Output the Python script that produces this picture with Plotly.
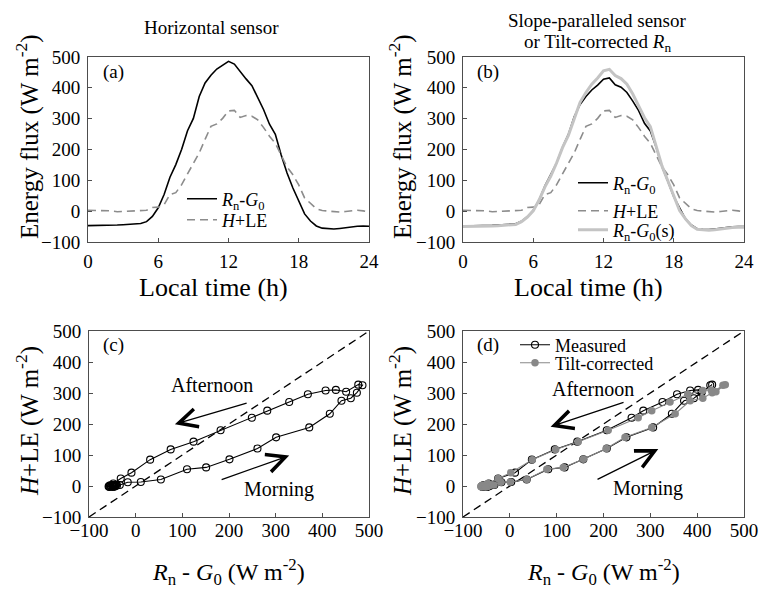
import plotly.graph_objects as go

# ---------------- data ----------------
hours = [0, 0.5, 1, 1.5, 2, 2.5, 3, 3.5, 4, 4.5, 5, 5.5, 6, 6.5, 7, 7.5, 8, 8.5,
         9, 9.5, 10, 10.5, 11, 11.5, 12, 12.5, 13, 13.5, 14, 14.5, 15, 15.5, 16,
         16.5, 17, 17.5, 18, 18.5, 19, 19.5, 20, 20.5, 21, 21.5, 22, 22.5, 23,
         23.5, 24]

# Rn-G0, horizontal sensor (W m-2)
rn_g0_horizontal = [-47, -47, -46, -46, -46, -45, -44, -43, -42, -40, -34, -17,
                    11, 54, 110, 151, 201, 261, 301, 372, 416, 441, 461, 474,
                    486, 477, 451, 429, 407, 369, 329, 282, 249, 182, 124, 75,
                    31, -9, -32, -48, -55, -57, -58, -56, -53, -51, -49, -48, -49]

# H+LE (W m-2)
h_le = [3, 3, 3, 2, 1, -2, -1, 2, 3, 2, 3, 12,
        13, 21, 54, 60, 86, 121, 157, 189, 233, 275, 283, 301,
        325, 327, 304, 310, 308, 296, 271, 243, 220, 180, 143, 118,
        85, 43, 24, 8, 2, 0, -2, -3, -1, 2, 3, 1, -3]

# Rn-G0, slope-paralleled sensor (measured)
rn_g0_slope = [-48, -48, -47, -47, -47, -46, -45, -44, -43, -41, -33, -18,
               3, 36, 82, 117, 157, 207, 249, 306, 346, 372, 393, 409,
               428, 432, 410, 402, 385, 357, 326, 285, 260, 207, 144, 96,
               47, 11, -25, -45, -57, -59, -60, -58, -55, -53, -51, -50, -50]

# Rn-G0(s), tilt-corrected
rn_g0_tilt = [-50, -50, -49, -49, -49, -48, -47, -46, -45, -43, -34, -19,
              1, 36, 79, 114, 157, 206, 246, 303, 353, 385, 412, 432,
              455, 460, 440, 430, 412, 380, 342, 303, 274, 210, 146, 98,
              48, 2, -25, -47, -59, -61, -62, -60, -57, -55, -53, -52, -52]

time_ticks = [0, 6, 12, 18, 24]
flux_ticks = [-100, 0, 100, 200, 300, 400, 500]
one_to_one = [-100, 500]

# ---------------- layout helpers ----------------
W, H = 759, 590
FONT = "Liberation Serif, serif"


def fx(p):
    return p / W


def fy(p):
    return 1 - p / H


RNG0 = "<i>R</i><sub>n</sub>-<i>G</i><sub>0</sub>"
HLE = "<i>H</i>+LE"

fig = go.Figure()

# ---- (a) ----
fig.add_trace(go.Scatter(x=hours, y=rn_g0_horizontal, mode="lines", name=RNG0,
                         line=dict(color="black", width=1.6),
                         xaxis="x", yaxis="y", legend="legend"))
fig.add_trace(go.Scatter(x=hours, y=h_le, mode="lines", name=HLE,
                         line=dict(color="#8c8c8c", width=1.6, dash="8px,5px"),
                         xaxis="x", yaxis="y", legend="legend2"))

# ---- (b) ----
fig.add_trace(go.Scatter(x=hours, y=rn_g0_slope, mode="lines", name=RNG0,
                         line=dict(color="black", width=1.6),
                         xaxis="x2", yaxis="y2", legend="legend3"))
fig.add_trace(go.Scatter(x=hours, y=h_le, mode="lines", name=HLE,
                         line=dict(color="#8c8c8c", width=1.6, dash="8px,5px"),
                         xaxis="x2", yaxis="y2", legend="legend4"))
fig.add_trace(go.Scatter(x=hours, y=rn_g0_tilt, mode="lines", name=RNG0 + "(s)",
                         line=dict(color="#c4c4c4", width=3),
                         xaxis="x2", yaxis="y2", legend="legend5"))

# ---- (c) ----
fig.add_trace(go.Scatter(x=one_to_one, y=one_to_one, mode="lines", showlegend=False,
                         line=dict(color="black", width=1.3, dash="8px,5px"),
                         xaxis="x3", yaxis="y3"))
fig.add_trace(go.Scatter(x=rn_g0_horizontal, y=h_le, mode="lines+markers",
                         showlegend=False,
                         line=dict(color="black", width=1.1),
                         marker=dict(symbol="circle-open", size=7, color="black",
                                     line=dict(width=1.1)),
                         xaxis="x3", yaxis="y3"))

# ---- (d) ----
fig.add_trace(go.Scatter(x=one_to_one, y=one_to_one, mode="lines", showlegend=False,
                         line=dict(color="black", width=1.3, dash="8px,5px"),
                         xaxis="x4", yaxis="y4"))
fig.add_trace(go.Scatter(x=rn_g0_slope, y=h_le, mode="lines+markers", name="Measured",
                         line=dict(color="black", width=1.1),
                         marker=dict(symbol="circle-open", size=7, color="black",
                                     line=dict(width=1.1)),
                         xaxis="x4", yaxis="y4", legend="legend6"))
fig.add_trace(go.Scatter(x=rn_g0_tilt, y=h_le, mode="lines+markers", name="Tilt-corrected",
                         line=dict(color="#888888", width=1.1),
                         marker=dict(symbol="circle", size=7.5, color="#888888"),
                         xaxis="x4", yaxis="y4", legend="legend7"))

axis_common = dict(showgrid=False, zeroline=False, showline=True, linecolor="#4d4d4d",
                   linewidth=1, mirror=True, ticks="inside", ticklen=4, automargin=False,
                   tickcolor="#4d4d4d", tickfont=dict(family=FONT, size=19, color="black"))

top_y = [fy(242), fy(57)]
bot_y = [fy(517), fy(331)]
left_x = [fx(88), fx(369)]
right_x = [fx(463), fx(744)]


def leg(xp, yp):
    return dict(bgcolor="rgba(0,0,0,0)", font=dict(family=FONT, size=18, color="black"),
                xanchor="left", yanchor="middle", tracegroupgap=0, itemwidth=30,
                borderwidth=0, x=fx(xp), y=fy(yp))


fig.update_layout(
    width=W, height=H, margin=dict(l=0, r=0, t=0, b=0, autoexpand=False),
    paper_bgcolor="white", plot_bgcolor="white",
    font=dict(family=FONT, color="black"),
    xaxis=dict(axis_common, domain=left_x, range=[0, 24], tickvals=time_ticks,
               anchor="y", ticklabelstandoff=2),
    yaxis=dict(axis_common, domain=top_y, range=[-100, 500], tickvals=flux_ticks,
               anchor="x", ticklabelstandoff=3),
    xaxis2=dict(axis_common, domain=right_x, range=[0, 24], tickvals=time_ticks,
                anchor="y2", ticklabelstandoff=2),
    yaxis2=dict(axis_common, domain=top_y, range=[-100, 500], tickvals=flux_ticks,
                anchor="x2", ticklabelstandoff=3),
    xaxis3=dict(axis_common, domain=[fx(89), fx(369)], range=[-100, 500], tickvals=flux_ticks,
                anchor="y3", ticklabelstandoff=-4),
    yaxis3=dict(axis_common, domain=bot_y, range=[-100, 500], tickvals=flux_ticks,
                anchor="x3", ticklabelstandoff=3),
    xaxis4=dict(axis_common, domain=right_x, range=[-100, 500], tickvals=flux_ticks,
                anchor="y4", ticklabelstandoff=-4),
    yaxis4=dict(axis_common, domain=bot_y, range=[-100, 500], tickvals=flux_ticks,
                anchor="x4", ticklabelstandoff=3),
    legend=leg(182, 199),
    legend2=leg(182, 220),
    legend3=leg(573, 183),
    legend4=leg(573, 211),
    legend5=leg(573, 230),
    legend6=leg(515, 345),
    legend7=leg(515, 363),
)

ann = []


def text_px(x, y, text, size, angle=0):
    ann.append(dict(x=fx(x), y=fy(y), xref="paper", yref="paper", text=text,
                    showarrow=False, textangle=angle, xanchor="center", yanchor="middle",
                    font=dict(family=FONT, size=size, color="black")))


# panel titles
text_px(212, 27, "Horizontal sensor", 19)
text_px(597, 20, "Slope-paralleled sensor", 19)
text_px(597, 43, "or Tilt-corrected <i>R</i><sub>n</sub>", 19)
# axis titles
text_px(213, 287, "Local time (h)", 26)
text_px(588, 287, "Local time (h)", 26)
text_px(228, 572, "<i>R</i><sub>n</sub> - <i>G</i><sub>0</sub> (W m<sup>-2</sup>)", 24)
text_px(603, 572, "<i>R</i><sub>n</sub> - <i>G</i><sub>0</sub> (W m<sup>-2</sup>)", 24)
text_px(27, 137, "Energy flux (W m<sup>-2</sup>)", 25, -90)
text_px(400, 137, "Energy flux (W m<sup>-2</sup>)", 25, -90)
text_px(27, 421, "<i>H</i>+LE (W m<sup>-2</sup>)", 25, -90)
text_px(400, 421, "<i>H</i>+LE (W m<sup>-2</sup>)", 25, -90)
# panel labels
text_px(113, 72, "(a)", 19)
text_px(488, 72, "(b)", 19)
text_px(113, 345, "(c)", 19)
text_px(488, 345, "(d)", 19)

# data-space labels and arrows for (c) and (d)
for xr, yr, aft_txt, mor_txt, aft_arrow, mor_arrow in [
    ("x3", "y3", (163, 326), (308, -10), ((84, 199), (241, 269)), ((329, 98), (181, 19))),
    ("x4", "y4", (178, 313), (296, -7), ((87, 191), (246, 271)), ((317, 119), (184, 19))),
]:
    ann.append(dict(x=aft_txt[0], y=aft_txt[1], xref=xr, yref=yr, text="Afternoon",
                    showarrow=False, font=dict(family=FONT, size=20, color="black")))
    ann.append(dict(x=mor_txt[0], y=mor_txt[1], xref=xr, yref=yr, text="Morning",
                    showarrow=False, font=dict(family=FONT, size=20, color="black")))
    for tip, tail in [aft_arrow, mor_arrow]:
        ann.append(dict(x=tip[0], y=tip[1], ax=tail[0], ay=tail[1], xref=xr, yref=yr,
                        axref=xr, ayref=yr, text="", showarrow=True, arrowhead=5,
                        arrowsize=2.8, arrowwidth=1.3, arrowcolor="black"))

fig.update_layout(annotations=ann)
fig.write_html("out.html", config={"displayModeBar": False},
               post_script="document.body.style.margin='0px';")
